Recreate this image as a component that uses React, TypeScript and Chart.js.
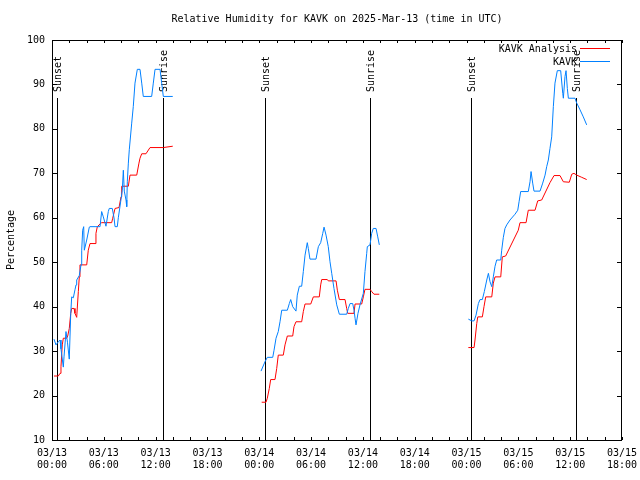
import React, { useEffect, useRef } from "react";
import { Chart, registerables } from "chart.js";

Chart.register(...registerables);

const FONT = "'DejaVu Sans Mono', 'Liberation Mono', monospace";

const chartTitle = "Relative Humidity for KAVK on 2025-Mar-13 (time in UTC)";
const yAxisTitle = "Percentage";
const seriesNames = ["KAVK Analysis", "KAVK"];
const seriesColors = ["#ff0000", "#0080ff"];

// hours since 2025-03-13 00:00 UTC
const xMinHour = 0;
const xMaxHour = 66;
const yMin = 10;
const yMax = 100;

const sunEventHours = [0.61, 12.89, 24.63, 36.86, 48.55, 60.71];
const sunEventLabels = ["Sunset", "Sunrise", "Sunset", "Sunrise", "Sunset", "Sunrise"];

// KAVK observations
const obsHours1 = [0.23,0.46,0.73,0.93,1.04,1.31,1.39,1.62,1.79,2.0,2.17,2.28,2.47,2.66,2.78,2.86,3.16,3.36,3.44,3.55,3.67,3.74,4.02,4.32,4.40,5.09,5.56,5.75,5.94,6.25,6.52,6.63,6.98,7.18,7.30,7.56,7.68,7.95,8.14,8.26,8.37,8.57,8.65,8.72,8.84,8.95,9.23,9.41,9.61,9.88,10.19,10.39,10.57,11.54,11.73,11.93,12.51,12.70,12.89,13.98];
const obsRH1 = [32.7,31.4,32.1,32.5,30.5,26.4,28.7,34.4,32,28.2,38.5,42.2,42,43.8,44.9,46,47,49.4,52.7,57.2,58,52.7,55,57.9,58,58,58,61.4,60.2,58.1,61.4,62.1,62.1,60,58,58,60,63.6,66.2,70.7,66,64,62.5,68.1,72.3,75.3,81.3,85,90.3,93.4,93.4,90.3,87.3,87.3,90.3,93.4,93.4,90.3,87.3,87.3];

const obsHours2 = [24.20,24.66,24.93,25.56,25.71,25.94,26.20,26.40,26.60,27.25,27.48,27.64,27.87,28.25,28.40,28.64,28.91,29.10,29.30,29.56,29.68,29.87,30.57,30.84,31.11,31.35,31.50,31.73,31.99,32.19,32.39,32.65,32.97,33.27,34.12,34.31,34.51,34.82,34.97,35.09,35.20,35.43,35.66,36.05,36.24,36.44,36.51,36.82,37.02,37.20,37.52,37.72,37.90];
const obsRH2 = [25.5,27.6,28.6,28.6,30.2,32.9,34.4,36.6,39.2,39.2,40.7,41.6,40,39,42.6,44.6,44.6,47.9,51.6,54.4,53.1,50.7,50.7,53.5,54.4,56.5,57.9,56.1,53.5,50.1,47.5,44.1,40.4,38.3,38.3,39.6,40.7,40.7,39.2,37.4,35.9,38.5,40.4,43,47.9,52,53.5,53.9,56.5,57.6,57.6,55.7,53.9];

const obsHours3 = [48.21,48.60,48.87,49.10,49.37,49.56,49.83,50.06,50.34,50.53,50.72,50.92,51.10,51.30,51.49,51.96,52.07,52.26,52.45,52.65,53.03,53.61,53.93,54.08,54.27,55.15,55.35,55.47,55.66,55.81,56.51,56.82,57.09,57.28,57.47,57.66,57.86,58.05,58.24,58.51,58.90,59.14,59.21,59.40,59.52,59.67,59.79,60.56,60.76,61.14,61.52,61.91];
const obsRH3 = [37.2,36.8,36.8,38.1,40.7,41.6,41.6,43.4,46,47.5,45.6,44.5,46.7,49.1,50.5,50.5,52.7,55.6,57.6,58.4,59.5,60.8,61.7,63.6,65.9,65.9,68.1,70.4,67.8,66,66,67.8,69.6,71.5,73,75.6,78.2,85,90.3,93.1,93.1,88,86.9,91.8,93.1,89.1,86.9,86.9,85.8,84.3,82.7,80.9];

// KAVK Analysis
const anaHours1 = [0.23,0.73,0.93,1.04,1.19,1.31,1.70,1.82,2.0,2.17,2.28,2.55,2.66,2.86,3.05,3.16,3.24,4.02,4.20,4.40,4.98,5.09,5.25,5.56,5.75,6.91,7.03,7.30,7.76,7.99,8.07,8.84,9.03,9.81,10.07,10.19,10.39,10.88,11.35,12.89,13.98];
const anaRH1 = [24.4,24.4,25,26.5,31.4,32.9,32.9,33.4,35.1,38.5,39.6,39.6,38.5,37.6,43.4,46.7,49.4,49.4,52.7,54.2,54.2,56.5,58,58.6,58.9,58.9,59.9,62.1,62.3,64.7,67.1,67.1,69.6,69.6,72.3,73.4,74.4,74.4,75.8,75.8,76.1];

const anaHours2 = [24.28,24.78,24.93,25.16,25.32,25.82,26.02,26.20,26.78,26.98,27.25,27.87,28.02,28.25,28.91,29.10,29.30,29.96,30.26,30.95,31.11,31.23,31.88,31.99,32.89,33.04,33.27,33.93,34.12,34.24,34.97,35.09,35.86,36.05,36.24,36.82,37.02,37.28,37.90];
const anaRH2 = [18.5,18.5,19.4,21.6,23.6,23.6,26.1,29.1,29.1,31.4,33.4,33.4,35.5,36.6,36.6,38.9,40.6,40.6,42.2,42.2,44.9,46.1,46.1,45.8,45.8,43.7,41.6,41.6,39.6,38.5,38.5,40.6,40.6,42.2,43.9,43.9,43.4,42.8,42.8];

const anaHours3 = [48.21,48.87,48.98,49.18,49.30,49.83,50.02,50.22,50.92,51.10,51.30,51.96,52.14,52.53,53.99,54.19,54.89,55.15,55.93,56.24,56.70,57.66,58.13,58.82,59.21,59.90,60.18,60.44,60.76,61.34,61.91];
const anaRH3 = [30.8,30.8,32.5,36.2,37.7,37.7,40,42.2,42.2,45.3,46.7,46.7,51.2,51.4,57.2,58.9,58.9,61.7,61.7,63.8,64,67.9,69.5,69.5,68.1,68,69.8,70,69.6,69.1,68.6];

function joinSegments(hoursList: number[][], valuesList: number[][]) {
  const pts: { x: number; y: number | null }[] = [];
  hoursList.forEach((hs, i) => {
    if (i > 0) {
      const prev = hoursList[i - 1];
      pts.push({ x: (prev[prev.length - 1] + hs[0]) / 2, y: null });
    }
    hs.forEach((h, j) => pts.push({ x: h, y: valuesList[i][j] }));
  });
  return pts;
}

function tickLabel(v: number): string[] {
  const day = 13 + Math.floor(v / 24);
  const hh = Math.round(v % 24);
  return ["03/" + String(day).padStart(2, "0"), String(hh).padStart(2, "0") + ":00"];
}

const overlayPlugin = {
  id: "gnuplotOverlay",
  beforeDatasetsDraw(chart: any) {
    const { ctx, chartArea: a, scales } = chart;
    const x = scales.x;
    ctx.save();
    ctx.strokeStyle = "#000";
    ctx.fillStyle = "#000";
    ctx.lineWidth = 1;
    ctx.font = "10px " + FONT;
    sunEventHours.forEach((h, i) => {
      const px = Math.round(x.getPixelForValue(h)) + 0.5;
      ctx.beginPath();
      ctx.moveTo(px, a.top + 58);
      ctx.lineTo(px, a.bottom);
      ctx.stroke();
      ctx.save();
      ctx.translate(px + 1, a.top + 52);
      ctx.rotate(-Math.PI / 2);
      ctx.textAlign = "left";
      ctx.textBaseline = "middle";
      ctx.fillText(sunEventLabels[i], 0, 0);
      ctx.restore();
    });
    ctx.restore();
  },
  afterDatasetsDraw(chart: any) {
    const { ctx, chartArea: a, scales } = chart;
    const x = scales.x;
    const y = scales.y;
    ctx.save();
    ctx.strokeStyle = "#000";
    ctx.lineWidth = 1;
    // border
    ctx.strokeRect(a.left + 0.5, a.top + 0.5, a.right - a.left - 1, a.bottom - a.top);
    ctx.beginPath();
    for (let h = xMinHour; h <= xMaxHour; h += 2) {
      const px = Math.round(x.getPixelForValue(h)) + 0.5;
      ctx.moveTo(px, a.bottom);
      ctx.lineTo(px, a.bottom - 3);
      ctx.moveTo(px, a.top);
      ctx.lineTo(px, a.top + 3);
    }
    for (let v = yMin; v <= yMax; v += 10) {
      const py = Math.round(y.getPixelForValue(v)) + 0.5;
      ctx.moveTo(a.left, py);
      ctx.lineTo(a.left + 5, py);
      ctx.moveTo(a.right, py);
      ctx.lineTo(a.right - 5, py);
    }
    ctx.stroke();
    // legend
    ctx.font = "10px " + FONT;
    ctx.fillStyle = "#000";
    ctx.textAlign = "right";
    ctx.textBaseline = "middle";
    seriesNames.forEach((name, i) => {
      const ly = a.top + 9 + i * 13;
      ctx.fillText(name, a.right - 45, ly);
      ctx.strokeStyle = seriesColors[i];
      ctx.beginPath();
      ctx.moveTo(a.right - 42, ly - 0.5);
      ctx.lineTo(a.right - 12, ly - 0.5);
      ctx.stroke();
    });
    ctx.restore();
  },
  afterDraw(chart: any) {
    const { ctx, chartArea: a } = chart;
    ctx.save();
    ctx.font = "10px " + FONT;
    ctx.fillStyle = "#000";
    ctx.textAlign = "center";
    ctx.textBaseline = "middle";
    ctx.fillText(chartTitle, (a.left + a.right) / 2, 19);
    ctx.translate(11, (a.top + a.bottom) / 2);
    ctx.rotate(-Math.PI / 2);
    ctx.fillText(yAxisTitle, 0, 0);
    ctx.restore();
  },
};

export default function App() {
  const canvasRef = useRef<HTMLCanvasElement | null>(null);

  useEffect(() => {
    const canvas = canvasRef.current;
    if (!canvas) return;
    const chart = new Chart(canvas, {
      type: "line",
      data: {
        datasets: [
          {
            label: seriesNames[0],
            data: joinSegments([anaHours1, anaHours2, anaHours3], [anaRH1, anaRH2, anaRH3]),
            borderColor: seriesColors[0],
            backgroundColor: seriesColors[0],
            borderWidth: 1,
            pointRadius: 0,
            tension: 0,
            spanGaps: false,
            order: 1,
          },
          {
            label: seriesNames[1],
            data: joinSegments([obsHours1, obsHours2, obsHours3], [obsRH1, obsRH2, obsRH3]),
            borderColor: seriesColors[1],
            backgroundColor: seriesColors[1],
            borderWidth: 1,
            pointRadius: 0,
            tension: 0,
            spanGaps: false,
            order: 0,
          },
        ],
      } as any,
      options: {
        responsive: false,
        animation: false,
        devicePixelRatio: 1,
        layout: { padding: { left: 0, right: 18, top: 40, bottom: 0 } },
        plugins: {
          legend: { display: false },
          title: { display: false },
          tooltip: { enabled: false },
        },
        scales: {
          x: {
            type: "linear",
            min: xMinHour,
            max: xMaxHour,
            grid: { display: false, drawTicks: false },
            border: { display: false },
            ticks: {
              stepSize: 6,
              autoSkip: false,
              maxRotation: 0,
              minRotation: 0,
              padding: 7,
              color: "#000",
              font: { family: FONT, size: 10, lineHeight: 1.2 },
              callback: (v: any) => tickLabel(Number(v)),
            },
            afterFit: (s: any) => {
              s.height = 40;
              s.paddingLeft = 0;
              s.paddingRight = 0;
            },
          },
          y: {
            type: "linear",
            min: yMin,
            max: yMax,
            grid: { display: false, drawTicks: false },
            border: { display: false },
            ticks: {
              stepSize: 10,
              padding: 7,
              color: "#000",
              font: { family: FONT, size: 10 },
            },
            afterFit: (s: any) => {
              s.width = 52;
              s.paddingTop = 0;
              s.paddingBottom = 0;
            },
          },
        },
      } as any,
      plugins: [overlayPlugin],
    });
    return () => chart.destroy();
  }, []);

  return (
    <div style={{ position: "absolute", left: 0, top: 0, width: 640, height: 480, background: "#fff" }}>
      <canvas ref={canvasRef} width={640} height={480} style={{ display: "block" }} />
    </div>
  );
}
